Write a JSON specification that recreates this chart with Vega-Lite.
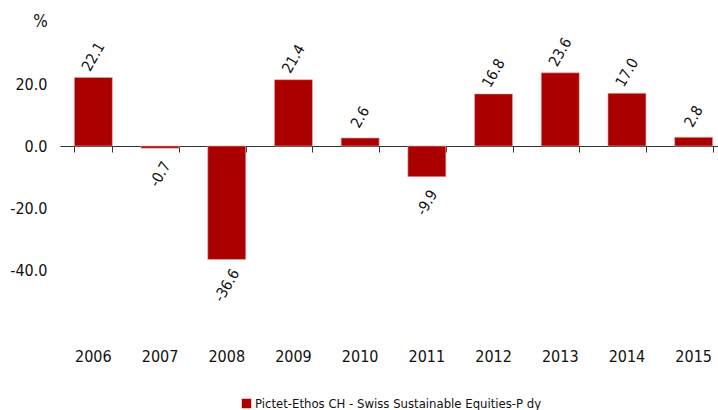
{
  "$schema": "https://vega.github.io/schema/vega-lite/v6.json",
  "autosize": "none",
  "width": 667,
  "height": 279,
  "padding": {"left": 60, "top": 53, "right": 0, "bottom": 78},
  "background": "#fefefe",
  "config": {
    "locale": {"number": {"decimal": ".", "thousands": ",", "grouping": [3], "currency": ["$", ""], "minus": "-"}},
    "view": {"stroke": null},
    "font": "DejaVu Sans Condensed",
    "axis": {"labelFont": "DejaVu Sans Condensed", "labelColor": "#111", "titleFont": "DejaVu Sans Condensed"},
    "legend": {"labelFont": "DejaVu Sans Condensed"}
  },
  "data": {
    "values": [
      {"year": "2006", "value": 22.1, "series": "Pictet-Ethos CH - Swiss Sustainable Equities-P dy"},
      {"year": "2007", "value": -0.7, "series": "Pictet-Ethos CH - Swiss Sustainable Equities-P dy"},
      {"year": "2008", "value": -36.6, "series": "Pictet-Ethos CH - Swiss Sustainable Equities-P dy"},
      {"year": "2009", "value": 21.4, "series": "Pictet-Ethos CH - Swiss Sustainable Equities-P dy"},
      {"year": "2010", "value": 2.6, "series": "Pictet-Ethos CH - Swiss Sustainable Equities-P dy"},
      {"year": "2011", "value": -9.9, "series": "Pictet-Ethos CH - Swiss Sustainable Equities-P dy"},
      {"year": "2012", "value": 16.8, "series": "Pictet-Ethos CH - Swiss Sustainable Equities-P dy"},
      {"year": "2013", "value": 23.6, "series": "Pictet-Ethos CH - Swiss Sustainable Equities-P dy"},
      {"year": "2014", "value": 17.0, "series": "Pictet-Ethos CH - Swiss Sustainable Equities-P dy"},
      {"year": "2015", "value": 2.8, "series": "Pictet-Ethos CH - Swiss Sustainable Equities-P dy"}
    ]
  },
  "resolve": {"axis": {"x": "independent", "y": "independent"}},
  "layer": [
    {
      "mark": {"type": "bar", "stroke": "#e8b0b0", "strokeWidth": 0.6},
      "encoding": {
        "x": {
          "field": "year", "type": "ordinal",
          "scale": {"paddingInner": 0.43, "paddingOuter": 0.215},
          "axis": {"title": null, "labelAngle": 0, "domain": false, "ticks": false, "labelFontSize": 16, "labelPadding": 16, "labelColor": "#111"}
        },
        "y": {
          "field": "value", "type": "quantitative",
          "scale": {"domain": [-60, 30], "nice": false, "zero": true},
          "axis": {"values": [-40, -20, 0, 20], "format": ".1f", "grid": false, "domain": false, "ticks": false, "labelFontSize": 16, "labelPadding": 13, "labelColor": "#111",
                   "title": "%", "titleAngle": 0, "titleFontSize": 17, "titleFontWeight": "normal", "titleX": -20, "titleY": -23, "titleColor": "#111"}
        },
        "color": {
          "field": "series", "type": "nominal",
          "scale": {"range": ["#aa0000"]},
          "legend": {"title": null, "orient": "none", "legendX": 180, "legendY": 344, "padding": 0, "labelLimit": 500, "labelFontSize": 13, "symbolType": "square", "symbolSize": 90, "labelOffset": 2, "labelColor": "#111", "symbolStrokeWidth": 0}
        }
      }
    },
    {
      "transform": [{"filter": "datum.value >= 0"}],
      "mark": {"type": "text", "angle": -60, "align": "center", "baseline": "middle", "dx": 18, "dy": -10.5, "fontSize": 15, "color": "#111"},
      "encoding": {
        "x": {"field": "year", "type": "ordinal", "axis": {"title": null, "orient": "bottom", "offset": -186, "labels": false, "domain": true, "domainColor": "#333", "domainWidth": 1, "ticks": true, "tickBand": "extent", "tickSize": 6, "tickColor": "#333", "tickWidth": 1}},
        "y": {"field": "value", "type": "quantitative", "axis": null},
        "text": {"field": "value", "type": "quantitative", "format": ".1f"}
      }
    },
    {
      "transform": [{"filter": "datum.value < 0"}],
      "mark": {"type": "text", "angle": -60, "align": "center", "baseline": "middle", "dx": -22.5, "dy": 13, "fontSize": 15, "color": "#111"},
      "encoding": {
        "x": {"field": "year", "type": "ordinal", "axis": null},
        "y": {"field": "value", "type": "quantitative", "axis": null},
        "text": {"field": "value", "type": "quantitative", "format": ".1f"}
      }
    }
  ]
}
